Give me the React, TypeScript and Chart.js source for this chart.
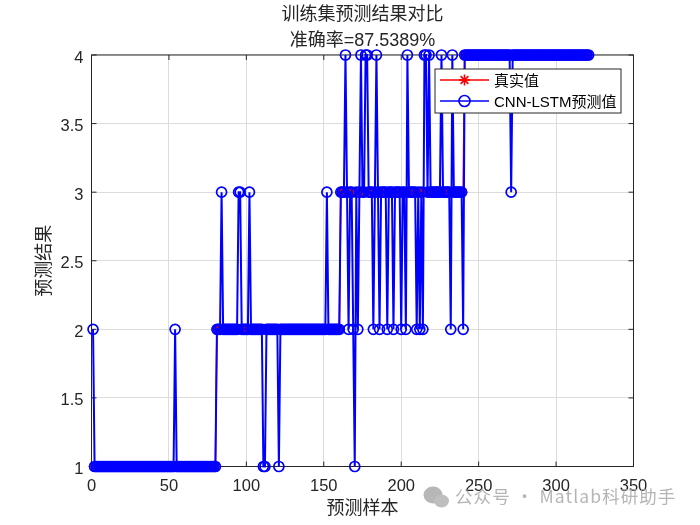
import React, { useEffect, useRef } from "react";
import { Chart, registerables } from "chart.js";
import { drawPoint } from "chart.js/helpers";

Chart.register(...registerables);

const titleLines = ["训练集预测结果对比", "准确率=87.5389%"];
const xLabel = "预测样本";
const yLabel = "预测结果";
const trueName = "真实值";
const predName = "CNN-LSTM预测值";
const watermark = "公众号 · Matlab科研助手";

const trueValues = [
  1,1,1,1,1,1,1,1,1,1,1,1,1,1,1,1,1,1,1,1,
  1,1,1,1,1,1,1,1,1,1,1,1,1,1,1,1,1,1,1,1,
  1,1,1,1,1,1,1,1,1,1,1,1,1,1,1,1,1,1,1,1,
  1,1,1,1,1,1,1,1,1,1,1,1,1,1,1,1,1,1,1,1,
  2,2,2,2,2,2,2,2,2,2,2,2,2,2,2,2,2,2,2,2,
  2,2,2,2,2,2,2,2,2,2,2,2,2,2,2,2,2,2,2,2,
  2,2,2,2,2,2,2,2,2,2,2,2,2,2,2,2,2,2,2,2,
  2,2,2,2,2,2,2,2,2,2,2,2,2,2,2,2,2,2,2,2,
  3,3,3,3,3,3,3,3,3,3,3,3,3,3,3,3,3,3,3,3,
  3,3,3,3,3,3,3,3,3,3,3,3,3,3,3,3,3,3,3,3,
  3,3,3,3,3,3,3,3,3,3,3,3,3,3,3,3,3,3,3,3,
  3,3,3,3,3,3,3,3,3,3,3,3,3,3,3,3,3,3,3,3,
  4,4,4,4,4,4,4,4,4,4,4,4,4,4,4,4,4,4,4,4,
  4,4,4,4,4,4,4,4,4,4,4,4,4,4,4,4,4,4,4,4,
  4,4,4,4,4,4,4,4,4,4,4,4,4,4,4,4,4,4,4,4,
  4,4,4,4,4,4,4,4,4,4,4,4,4,4,4,4,4,4,4,4,
  4,
];

const predictedValues = [
  2,1,1,1,1,1,1,1,1,1,1,1,1,1,1,1,1,1,1,1,
  1,1,1,1,1,1,1,1,1,1,1,1,1,1,1,1,1,1,1,1,
  1,1,1,1,1,1,1,1,1,1,1,1,1,2,1,1,1,1,1,1,
  1,1,1,1,1,1,1,1,1,1,1,1,1,1,1,1,1,1,1,1,
  2,2,2,3,2,2,2,2,2,2,2,2,2,2,3,3,2,2,2,2,
  2,3,2,2,2,2,2,2,2,2,1,1,2,2,2,2,2,2,2,2,
  1,2,2,2,2,2,2,2,2,2,2,2,2,2,2,2,2,2,2,2,
  2,2,2,2,2,2,2,2,2,2,2,3,2,2,2,2,2,2,2,2,
  3,3,3,4,3,2,3,3,2,1,3,2,3,4,3,3,4,4,3,3,
  3,2,3,4,3,2,3,3,3,3,2,3,3,3,2,3,3,3,3,2,
  3,3,2,4,3,3,3,3,3,2,3,2,3,2,4,4,3,4,3,3,
  3,3,3,3,3,4,3,3,3,3,3,2,4,3,3,3,3,3,3,2,
  4,4,4,4,4,4,4,4,4,4,4,4,4,4,4,4,4,4,4,4,
  4,4,4,4,4,4,4,4,4,4,3,4,4,4,4,4,4,4,4,4,
  4,4,4,4,4,4,4,4,4,4,4,4,4,4,4,4,4,4,4,4,
  4,4,4,4,4,4,4,4,4,4,4,4,4,4,4,4,4,4,4,4,
  4,
];

const xTicks = [0, 50, 100, 150, 200, 250, 300, 350];
const yTicks = [1, 1.5, 2, 2.5, 3, 3.5, 4];

const FONT = '"Liberation Sans", "Noto Sans CJK SC", sans-serif';
const INK = "#262626";

const framePlugin = {
  id: "frame",
  beforeDatasetsDraw(chart: any) {
    const { ctx, chartArea: a, scales } = chart;
    ctx.save();
    ctx.strokeStyle = INK;
    ctx.lineWidth = 1;
    ctx.strokeRect(a.left, a.top, a.right - a.left, a.bottom - a.top);
    ctx.beginPath();
    xTicks.forEach((v) => {
      const p = scales.x.getPixelForValue(v);
      ctx.moveTo(p, a.bottom);
      ctx.lineTo(p, a.bottom - 5);
      ctx.moveTo(p, a.top);
      ctx.lineTo(p, a.top + 5);
    });
    yTicks.forEach((v) => {
      const p = scales.y.getPixelForValue(v);
      ctx.moveTo(a.left, p);
      ctx.lineTo(a.left + 5, p);
      ctx.moveTo(a.right, p);
      ctx.lineTo(a.right - 5, p);
    });
    ctx.stroke();
    ctx.restore();
  },
};

const legendPlugin = {
  id: "insideLegend",
  afterDraw(chart: any) {
    const { ctx } = chart;
    const box = { x: 435, y: 69, w: 186, h: 44 };
    const rows = [
      { y: 80, ds: chart.data.datasets[0], r: 5.5, bw: 2 },
      { y: 101, ds: chart.data.datasets[1], r: 5.5, bw: 1.6 },
    ];
    ctx.save();
    ctx.fillStyle = "#ffffff";
    ctx.fillRect(box.x, box.y, box.w, box.h);
    ctx.strokeStyle = INK;
    ctx.lineWidth = 1;
    ctx.strokeRect(box.x, box.y, box.w, box.h);
    rows.forEach(({ y, ds, r, bw }) => {
      ctx.strokeStyle = ds.borderColor;
      ctx.lineWidth = 1.6;
      ctx.beginPath();
      ctx.moveTo(440, y);
      ctx.lineTo(489, y);
      ctx.stroke();
      ctx.fillStyle = "transparent";
      drawPoint(
        ctx,
        { pointStyle: ds.pointStyle, radius: r, rotation: 0, borderWidth: bw },
        464.5,
        y
      );
      ctx.fillStyle = "#000000";
      ctx.font = `15px ${FONT}`;
      ctx.textAlign = "left";
      ctx.textBaseline = "middle";
      ctx.fillText(ds.label, 494, y + 1.5);
    });
    ctx.restore();
  },
};

const watermarkPlugin = {
  id: "watermark",
  afterDraw(chart: any) {
    const { ctx } = chart;
    ctx.save();
    ctx.fillStyle = "rgba(170,170,170,0.85)";
    ctx.beginPath();
    ctx.ellipse(433, 495, 9.5, 8.5, 0, 0, Math.PI * 2);
    ctx.fill();
    ctx.beginPath();
    ctx.ellipse(441.5, 501, 7.5, 6.5, 0, 0, Math.PI * 2);
    ctx.fillStyle = "rgba(190,190,190,1)";
    ctx.fill();
    ctx.fillStyle = "rgba(165,165,165,0.82)";
    ctx.font = `17.5px "Noto Sans CJK SC", sans-serif`;
    ctx.textAlign = "left";
    ctx.textBaseline = "middle";
    (ctx as any).letterSpacing = "1.1px";
    ctx.fillText(watermark, 455, 496);
    ctx.restore();
  },
};

export default function App() {
  const ref = useRef<HTMLCanvasElement>(null);
  useEffect(() => {
    const chart = new Chart(ref.current as HTMLCanvasElement, {
      type: "line",
      data: {
        datasets: [
          {
            label: trueName,
            data: trueValues.map((y, i) => ({ x: i + 1, y })),
            borderColor: "#ff0000",
            backgroundColor: "transparent",
            borderWidth: 1.6,
            pointStyle: "star",
            pointRadius: 4.5,
            pointBorderColor: "#ff0000",
            pointBorderWidth: 1.2,
            pointBackgroundColor: "transparent",
            order: 2,
            clip: false,
          },
          {
            label: predName,
            data: predictedValues.map((y, i) => ({ x: i + 1, y })),
            borderColor: "#0000ff",
            backgroundColor: "transparent",
            borderWidth: 2,
            pointStyle: "circle",
            pointRadius: 5,
            pointBorderColor: "#0000ff",
            pointBorderWidth: 1.7,
            pointBackgroundColor: "transparent",
            order: 1,
            clip: false,
          },
        ] as any,
      },
      options: {
        responsive: false,
        animation: false,
        devicePixelRatio: 1,
        layout: { padding: { left: 0, right: 66.5, top: 0, bottom: 0 } },
        plugins: {
          legend: { display: false },
          tooltip: { enabled: false },
          title: {
            display: true,
            fullSize: false,
            text: titleLines,
            color: INK,
            font: { family: FONT, size: 18, weight: "normal", lineHeight: 1.45 },
            padding: { top: 2, bottom: 0.8 },
          },
        },
        scales: {
          x: {
            type: "linear",
            min: 0,
            max: 350,
            afterBuildTicks: (s: any) => {
              s.ticks = xTicks.map((value) => ({ value }));
            },
            afterFit: (s: any) => {
              s.height = 58.5;
            },
            grid: { color: "#dcdcdc", lineWidth: 1, drawTicks: false },
            border: { display: false },
            ticks: {
              color: INK,
              font: { family: FONT, size: 16.5 },
              padding: 10,
              maxRotation: 0,
              autoSkip: false,
            },
            title: {
              display: true,
              text: xLabel,
              color: INK,
              font: { family: FONT, size: 18 },
              padding: 5,
            },
          },
          y: {
            type: "linear",
            min: 1,
            max: 4,
            afterBuildTicks: (s: any) => {
              s.ticks = yTicks.map((value) => ({ value }));
              const compute = s._computeLabelItems;
              s._computeLabelItems = function (area: any) {
                const items = compute.call(this, area);
                items.forEach((item: any) => {
                  item.options.translation[1] += 1.5;
                });
                return items;
              };
            },
            afterFit: (s: any) => {
              s.width = 91.5;
            },
            grid: { color: "#dcdcdc", lineWidth: 1, drawTicks: false },
            border: { display: false },
            ticks: {
              color: INK,
              font: { family: FONT, size: 16.5 },
              padding: 8,
              autoSkip: false,
              callback: (v: any) => String(v),
            },
            title: {
              display: true,
              text: yLabel,
              color: INK,
              font: { family: FONT, size: 18 },
              padding: 34,
            },
          },
        },
      } as any,
      plugins: [framePlugin, legendPlugin, watermarkPlugin],
    });
    return () => chart.destroy();
  }, []);
  return (
    <div style={{ position: "absolute", left: 0, top: 0, width: 700, height: 525, background: "#ffffff" }}>
      <canvas ref={ref} width={700} height={525} style={{ display: "block" }} />
    </div>
  );
}
